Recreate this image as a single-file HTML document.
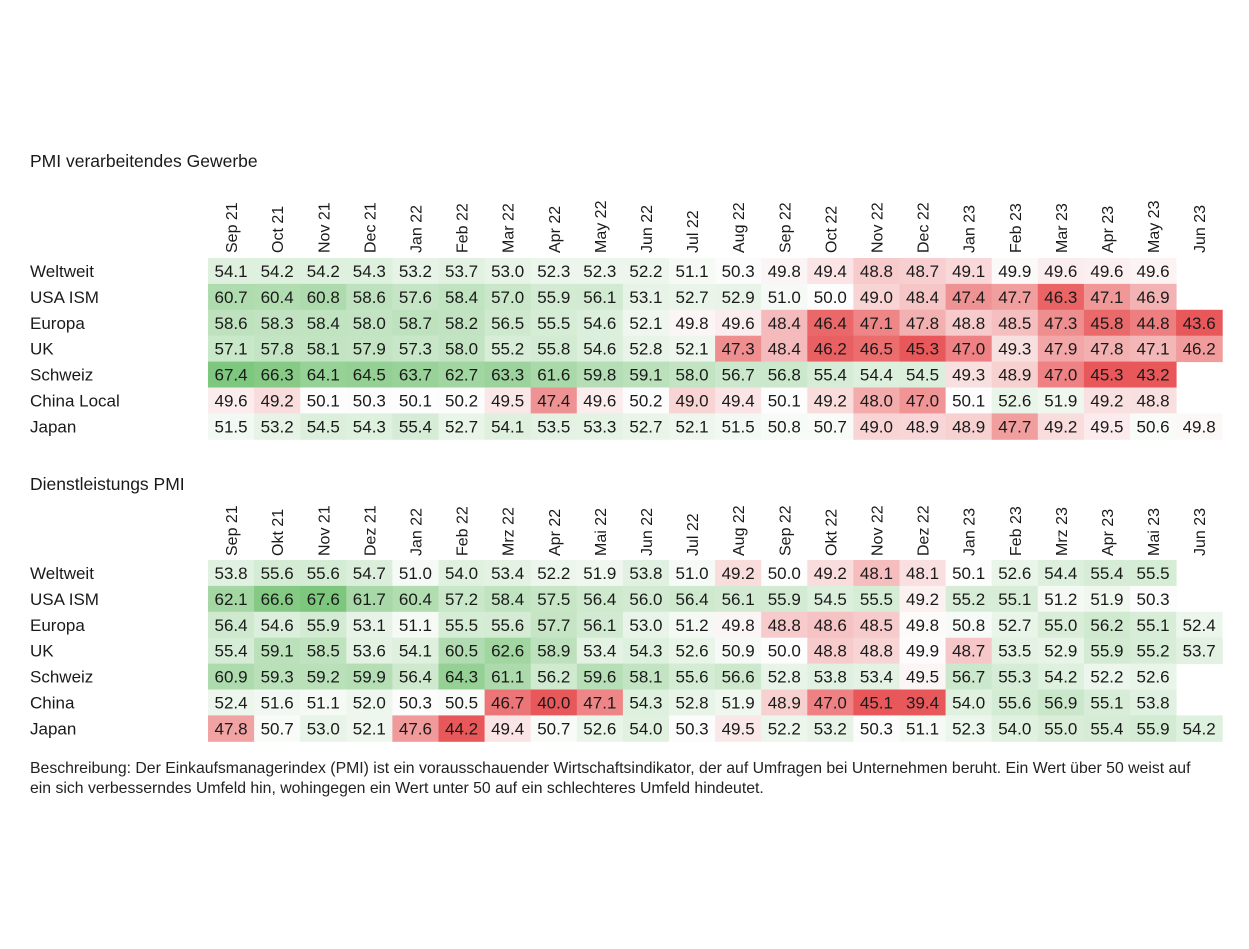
<!DOCTYPE html>
<html><head><meta charset="utf-8">
<style>
body{margin:0;background:#fff;width:1249px;height:949px;overflow:hidden;font-family:"Liberation Sans",Arial,sans-serif;color:#1a1a1a}
svg{position:absolute;left:0;top:0}
.desc{position:absolute;left:30px;top:759px;font-size:15.8px;line-height:20px;width:1185px;color:#222}
</style></head>
<body>
<svg id="chart" width="1249" height="949"></svg>
<div class="desc">Beschreibung: Der Einkaufsmanagerindex (PMI) ist ein vorausschauender Wirtschaftsindikator, der auf Umfragen bei Unternehmen beruht. Ein Wert über 50 weist auf ein sich verbesserndes Umfeld hin, wohingegen ein Wert unter 50 auf ein schlechteres Umfeld hindeutet.</div>
<script>
const months1 = ["Sep 21","Oct 21","Nov 21","Dec 21","Jan 22","Feb 22","Mar 22","Apr 22","May 22","Jun 22","Jul 22","Aug 22","Sep 22","Oct 22","Nov 22","Dec 22","Jan 23","Feb 23","Mar 23","Apr 23","May 23","Jun 23"];
const months2 = ["Sep 21","Okt 21","Nov 21","Dez 21","Jan 22","Feb 22","Mrz 22","Apr 22","Mai 22","Jun 22","Jul 22","Aug 22","Sep 22","Okt 22","Nov 22","Dez 22","Jan 23","Feb 23","Mrz 23","Apr 23","Mai 23","Jun 23"];
const regions1 = ["Weltweit","USA ISM","Europa","UK","Schweiz","China Local","Japan"];
const regions2 = ["Weltweit","USA ISM","Europa","UK","Schweiz","China","Japan"];
const manuWeltweit = [54.1,54.2,54.2,54.3,53.2,53.7,53.0,52.3,52.3,52.2,51.1,50.3,49.8,49.4,48.8,48.7,49.1,49.9,49.6,49.6,49.6,null];
const manuUSA = [60.7,60.4,60.8,58.6,57.6,58.4,57.0,55.9,56.1,53.1,52.7,52.9,51.0,50.0,49.0,48.4,47.4,47.7,46.3,47.1,46.9,null];
const manuEuropa = [58.6,58.3,58.4,58.0,58.7,58.2,56.5,55.5,54.6,52.1,49.8,49.6,48.4,46.4,47.1,47.8,48.8,48.5,47.3,45.8,44.8,43.6];
const manuUK = [57.1,57.8,58.1,57.9,57.3,58.0,55.2,55.8,54.6,52.8,52.1,47.3,48.4,46.2,46.5,45.3,47.0,49.3,47.9,47.8,47.1,46.2];
const manuSchweiz = [67.4,66.3,64.1,64.5,63.7,62.7,63.3,61.6,59.8,59.1,58.0,56.7,56.8,55.4,54.4,54.5,49.3,48.9,47.0,45.3,43.2,null];
const manuChina = [49.6,49.2,50.1,50.3,50.1,50.2,49.5,47.4,49.6,50.2,49.0,49.4,50.1,49.2,48.0,47.0,50.1,52.6,51.9,49.2,48.8,null];
const manuJapan = [51.5,53.2,54.5,54.3,55.4,52.7,54.1,53.5,53.3,52.7,52.1,51.5,50.8,50.7,49.0,48.9,48.9,47.7,49.2,49.5,50.6,49.8];
const servWeltweit = [53.8,55.6,55.6,54.7,51.0,54.0,53.4,52.2,51.9,53.8,51.0,49.2,50.0,49.2,48.1,48.1,50.1,52.6,54.4,55.4,55.5,null];
const servUSA = [62.1,66.6,67.6,61.7,60.4,57.2,58.4,57.5,56.4,56.0,56.4,56.1,55.9,54.5,55.5,49.2,55.2,55.1,51.2,51.9,50.3,null];
const servEuropa = [56.4,54.6,55.9,53.1,51.1,55.5,55.6,57.7,56.1,53.0,51.2,49.8,48.8,48.6,48.5,49.8,50.8,52.7,55.0,56.2,55.1,52.4];
const servUK = [55.4,59.1,58.5,53.6,54.1,60.5,62.6,58.9,53.4,54.3,52.6,50.9,50.0,48.8,48.8,49.9,48.7,53.5,52.9,55.9,55.2,53.7];
const servSchweiz = [60.9,59.3,59.2,59.9,56.4,64.3,61.1,56.2,59.6,58.1,55.6,56.6,52.8,53.8,53.4,49.5,56.7,55.3,54.2,52.2,52.6,null];
const servChina = [52.4,51.6,51.1,52.0,50.3,50.5,46.7,40.0,47.1,54.3,52.8,51.9,48.9,47.0,45.1,39.4,54.0,55.6,56.9,55.1,53.8,null];
const servJapan = [47.8,50.7,53.0,52.1,47.6,44.2,49.4,50.7,52.6,54.0,50.3,49.5,52.2,53.2,50.3,51.1,52.3,54.0,55.0,55.4,55.9,54.2];

const NS="http://www.w3.org/2000/svg";
const svg=document.getElementById('chart');
const X0=208, CW=46.1, RH=25.9;
function xCol(i){return X0+i*CW;}
function mk(tag,attrs,parent){const e=document.createElementNS(NS,tag);for(const k in attrs)e.setAttribute(k,attrs[k]);(parent||svg).appendChild(e);return e;}
function mix(a,b,t){return a.map((v,i)=>Math.round(v+(b[i]-v)*t));}
const WHITE=[253,253,253], GREEN=[125,198,125], RED=[232,88,90];
function color(v,colMin){
  if(v>=50){const t=Math.min(1,(v-50)/17.6);return 'rgb('+mix(WHITE,GREEN,t).join(',')+')';}
  const t=Math.min(1,(50-v)/Math.max(50-colMin,4));return 'rgb('+mix(WHITE,RED,t).join(',')+')';
}
function drawTable(name,title,titleY,headBaseY,rowY0,months,regions,rows){
  const g=mk('g',{});
  
  
  const t=mk('text',{x:30,y:titleY,'font-size':17.5,fill:'#1a1a1a'},g);
  t.textContent=title;
  
  
  months.forEach((m,i)=>{
    const cx=xCol(i)+CW/2+6;
    const h=mk('text',{x:0,y:0,'font-size':16,fill:'#1a1a1a',transform:'translate('+cx+','+headBaseY+') rotate(-90)'},g);
    h.textContent=m;
    
    
  });
  const mins=months.map((_,i)=>Math.min(...rows.map(r=>r[i]).filter(v=>v!==null)));
  rows.forEach((r,j)=>{
    const y=rowY0+j*RH;
    const l=mk('text',{x:30,y:y+RH/2+6,'font-size':17,fill:'#1a1a1a'},g);
    l.textContent=regions[j];
    
    
    r.forEach((v,i)=>{
      if(v===null)return;
      const c=mk('rect',{x:xCol(i),y:y,width:CW+0.5,height:RH+0.5,fill:color(v,mins[i])},g);
      
      
      const tx=mk('text',{x:xCol(i)+CW/2,y:y+RH/2+6,'font-size':17,'text-anchor':'middle',fill:'#1a1a1a'},g);
      tx.textContent=v.toFixed(1);
      
      
    });
  });
}
drawTable('manufacturing-table','PMI verarbeitendes Gewerbe',167,253,258,months1,regions1,[manuWeltweit,manuUSA,manuEuropa,manuUK,manuSchweiz,manuChina,manuJapan]);
drawTable('services-table','Dienstleistungs PMI',490,556,560,months2,regions2,[servWeltweit,servUSA,servEuropa,servUK,servSchweiz,servChina,servJapan]);
</script>
</body></html>
